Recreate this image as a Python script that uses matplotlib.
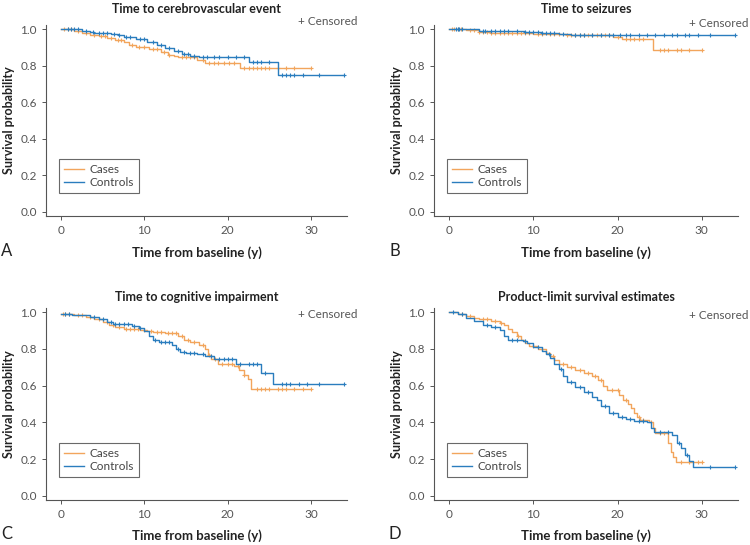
"""Kaplan-Meier curves, cases vs controls - four panels"""
import matplotlib
matplotlib.use('Agg')
import matplotlib.pyplot as plt
import numpy as np

plt.rcParams.update({
    'font.family': ['Lato', 'DejaVu Sans'],
    'font.size': 8.5,
    'axes.linewidth': 0.8,
})

ORANGE = '#F2A55C'
BLUE = '#2A7DBE'
GREY = '#555555'

titles = ['Time to cerebrovascular event', 'Time to seizures',
          'Time to cognitive impairment', 'Product-limit survival estimates']
letters = ['A', 'B', 'C', 'D']
groups = ['Cases', 'Controls']

# ---- A: cerebrovascular event ----
a_cases_t = [0, 1.5, 2.5, 3.5, 4.5, 5.5, 6.5, 7.5, 8.2, 9, 10.5, 12, 12.8, 13.5, 14, 16.3, 17.3, 21.5, 30]
a_cases_s = [1.0, 0.99, 0.98, 0.97, 0.96, 0.95, 0.94, 0.93, 0.91, 0.90, 0.89, 0.875, 0.86, 0.85, 0.845, 0.83, 0.815, 0.785, 0.785]
a_cases_c = [0.3, 0.8, 1.2, 2, 3, 4, 4.8, 5.3, 6, 6.8, 7.2, 8.5, 9.3, 10, 11, 11.5, 12.4, 13, 14.5, 15, 15.5,
             16, 17, 17.8, 18.3, 18.8, 19.5, 20.2, 20.8, 22, 22.5, 23, 23.5, 24, 24.5, 25, 26, 27, 28, 30]
a_ctrl_t = [0, 2.5, 3.5, 4, 6, 6.8, 7.5, 9, 10.3, 11.5, 12.5, 13.5, 14.5, 15.5, 16.5, 22.5, 26, 34]
a_ctrl_s = [1.0, 0.99, 0.985, 0.98, 0.975, 0.965, 0.955, 0.945, 0.93, 0.91, 0.895, 0.88, 0.865, 0.855, 0.845, 0.82, 0.75, 0.75]
a_ctrl_c = [0.8, 1.2, 1.6, 2, 3, 3.8, 4.5, 5, 5.5, 6.3, 7, 7.8, 8.3, 9.5, 10, 11, 12, 13, 14, 14.8, 15.2, 16,
            17, 17.5, 18.3, 19, 20, 21, 22, 23, 23.5, 24, 25, 26.5, 27, 27.5, 28, 29, 31, 34]

# ---- B: seizures ----
b_cases_t = [0, 2, 3.5, 5, 7, 10, 12, 14, 16, 19.5, 20.5, 24.2, 30]
b_cases_s = [1.0, 0.995, 0.985, 0.98, 0.978, 0.975, 0.972, 0.97, 0.968, 0.955, 0.948, 0.883, 0.883]
b_cases_c = [0.3, 0.6, 1, 1.4, 2.5, 3, 3.6, 4, 4.5, 5, 5.5, 6, 6.5, 7, 7.5, 8, 8.5, 9, 9.5, 10.5, 11, 12,
             12.5, 13, 14, 14.5, 15, 15.5, 16, 16.5, 17, 17.5, 18, 18.5, 19, 20, 21, 21.5, 22, 22.5, 23,
             25, 25.5, 26, 27, 27.5, 28.5, 30]
b_ctrl_t = [0, 3.5, 5, 9, 11, 13, 14.5, 34]
b_ctrl_s = [1.0, 0.99, 0.987, 0.985, 0.98, 0.975, 0.965, 0.965]
b_ctrl_c = [0.8, 1, 1.2, 1.5, 4, 4.3, 5, 5.5, 6, 6.5, 7, 8, 9, 9.5, 10, 10.5, 11, 11.5, 12, 12.5, 13.5,
            15, 15.5, 16, 17, 18, 19, 19.5, 20.3, 21, 21.5, 22.5, 23.5, 24.5, 25.5, 26.5, 27, 28, 28.5,
            29.5, 31, 34]

# ---- C: cognitive impairment ----
c_cases_t = [0, 1.5, 3, 4, 5, 5.8, 6.5, 7.5, 9.5, 10.3, 11, 12.5, 14, 14.8, 15.5, 16.5, 17.3, 17.6, 18,
             18.8, 20.8, 21.4, 21.9, 22.4, 22.8, 30]
c_cases_s = [0.99, 0.985, 0.975, 0.96, 0.945, 0.93, 0.92, 0.91, 0.905, 0.895, 0.89, 0.885, 0.87, 0.85,
             0.835, 0.82, 0.80, 0.765, 0.745, 0.72, 0.705, 0.685, 0.66, 0.635, 0.58, 0.58]
c_cases_c = [0.2, 0.5, 1, 2, 2.5, 3.5, 4.5, 5.5, 6.2, 7, 7.8, 8.3, 8.8, 9.2, 10, 10.8, 11.5, 12, 12.8, 13.3,
             13.8, 14.5, 15.2, 16, 17, 17.8, 18.5, 19.3, 20, 20.5, 21.2, 22, 23.5, 24, 24.5, 25, 26, 26.5,
             27, 28, 29, 30]
c_ctrl_t = [0, 1.3, 3.5, 4.5, 5.5, 6.2, 8.5, 9.3, 10, 10.5, 11, 11.7, 13.3, 13.8, 14.3, 15, 16.3, 17.3,
            18.3, 21, 24, 25.4, 34]
c_ctrl_s = [0.99, 0.985, 0.975, 0.96, 0.945, 0.935, 0.925, 0.915, 0.895, 0.87, 0.85, 0.835, 0.82, 0.80,
            0.785, 0.78, 0.77, 0.76, 0.745, 0.72, 0.67, 0.61, 0.61]
c_ctrl_c = [0.5, 1, 4, 5, 6, 6.5, 7, 7.5, 8, 8.8, 9.5, 11.3, 12, 12.5, 13, 14, 14.8, 15.5, 16, 17, 18, 19,
            19.5, 20, 20.5, 21.5, 22.5, 23, 23.5, 24.5, 26.5, 27, 27.5, 28.5, 29.5, 31, 34]

# ---- D: overall survival ----
d_cases_t = [0, 1, 2, 3, 3.5, 5, 6, 6.5, 7, 7.5, 8, 8.5, 9, 9.5, 10.5, 11.5, 12, 12.5, 13, 14, 15, 16,
             17, 17.7, 18.3, 18.8, 20.2, 20.7, 21.2, 21.6, 22, 22.3, 22.7, 23.7, 24.2, 24.5, 26, 26.3,
             26.6, 26.9, 30]
d_cases_s = [1.0, 0.99, 0.98, 0.97, 0.96, 0.95, 0.94, 0.93, 0.91, 0.89, 0.87, 0.85, 0.83, 0.815, 0.80,
             0.78, 0.76, 0.74, 0.72, 0.70, 0.685, 0.67, 0.65, 0.63, 0.60, 0.575, 0.55, 0.52, 0.50, 0.48,
             0.45, 0.43, 0.415, 0.40, 0.37, 0.345, 0.29, 0.24, 0.21, 0.185, 0.185]
d_cases_c = [1.5, 2.5, 4, 4.5, 5.5, 6.2, 8.2, 10, 11, 12.3, 13.5, 14.5, 15.5, 16.5, 17.3, 18, 19.3, 20,
             21, 22.5, 23, 24, 25, 25.5, 27.5, 28.5, 29.5, 30]
d_ctrl_t = [0, 1, 2, 3, 4, 5, 6, 6.5, 7, 8.8, 9.3, 10, 11, 11.5, 12, 12.5, 13, 13.5, 14, 15, 16, 17,
            17.5, 18, 19, 20, 21, 22, 23.5, 24, 24.3, 26.5, 27, 27.5, 28, 28.5, 29, 34]
d_ctrl_s = [1.0, 0.99, 0.97, 0.95, 0.93, 0.92, 0.90, 0.87, 0.85, 0.84, 0.83, 0.81, 0.79, 0.77, 0.75,
            0.72, 0.69, 0.65, 0.62, 0.595, 0.565, 0.54, 0.52, 0.49, 0.45, 0.43, 0.42, 0.41, 0.40, 0.37,
            0.35, 0.33, 0.29, 0.26, 0.22, 0.19, 0.16, 0.16]
d_ctrl_c = [0.5, 1.5, 4.5, 5.5, 7.5, 8, 9, 10.5, 11.8, 13.3, 14.5, 15.5, 16.5, 18.5, 19.5, 20.5, 21.5,
            22.5, 23, 25, 26, 27.3, 28.3, 31, 34]

panels = [
    ((a_cases_t, a_cases_s, a_cases_c), (a_ctrl_t, a_ctrl_s, a_ctrl_c)),
    ((b_cases_t, b_cases_s, b_cases_c), (b_ctrl_t, b_ctrl_s, b_ctrl_c)),
    ((c_cases_t, c_cases_s, c_cases_c), (c_ctrl_t, c_ctrl_s, c_ctrl_c)),
    ((d_cases_t, d_cases_s, d_cases_c), (d_ctrl_t, d_ctrl_s, d_ctrl_c)),
]

# axes rectangles in pixels (left, top, right, bottom) of the 750 x 545 figure
W, H = 750, 545
rects = [
    (46, 25, 347, 216), (434, 25, 738, 216),
    (46, 308, 347, 500), (434, 308, 738, 500),
]
title_y = [1.084, 1.084, 1.057, 1.057]
cens_y = [1.04, 1.03, 0.985, 0.98]
xlab_y = [-0.157, -0.157, -0.151, -0.151]
letter_y = [-0.183, -0.183, -0.175, -0.175]

fig = plt.figure(figsize=(7.5, 5.45), dpi=100)

for i, (cases, ctrls) in enumerate(panels):
    l, t, r, b = rects[i]
    ax = fig.add_axes([l / W, 1 - b / H, (r - l) / W, (b - t) / H])
    for (tt, ss, cc), col, lab in zip((cases, ctrls), (ORANGE, BLUE), groups):
        ax.step(tt, ss, where='post', color=col, lw=1.0, label=lab)
        idx = np.searchsorted(tt, cc, side='right') - 1
        ax.plot(cc, np.array(ss)[idx], ls='none', marker='+', color=col,
                ms=3.5, mew=0.8)
    ax.set_xlim(-1.8, 34.3)
    ax.set_ylim(-0.022, 1.022)
    ax.set_xticks([0, 10, 20, 30])
    ax.set_yticks(np.arange(0, 1.01, 0.2))
    ax.set_yticklabels([f'{v:.1f}' for v in np.arange(0, 1.01, 0.2)])
    ax.tick_params(colors=GREY, labelsize=8.5, length=3, width=0.7)
    for sp in ('top', 'right'):
        ax.spines[sp].set_visible(False)
    for sp in ('left', 'bottom'):
        ax.spines[sp].set_color(GREY)

    ax.text(0.5, title_y[i], titles[i], transform=ax.transAxes, ha='center',
            va='center', fontsize=9, fontweight='bold', color='#222222')
    ax.set_xlabel('Time from baseline (y)', fontsize=9.5, fontweight='bold', color='#222222')
    ax.xaxis.set_label_coords(0.5, xlab_y[i])
    ax.set_ylabel('Survival probability', fontsize=9, fontweight='bold', color='#222222')
    ax.yaxis.set_label_coords(-0.103, 0.5)
    ax.text(35.5, cens_y[i], '+ Censored', ha='right', va='center',
            fontsize=8.5, color=GREY)
    ax.text(-0.13, letter_y[i], letters[i], transform=ax.transAxes, ha='center',
            va='center', fontsize=12, color='#222222')

    leg = ax.legend(loc='lower left', bbox_to_anchor=(0.043, 0.12), borderaxespad=0,
                    fancybox=False, edgecolor='#444444', fontsize=8.5,
                    handlelength=1.7, labelspacing=0.2, borderpad=0.4,
                    handletextpad=0.5)
    leg.get_frame().set_linewidth(0.8)
    for txt in leg.get_texts():
        txt.set_color('#444444')

fig.savefig('out.png', dpi=100)
plt.close(fig)
